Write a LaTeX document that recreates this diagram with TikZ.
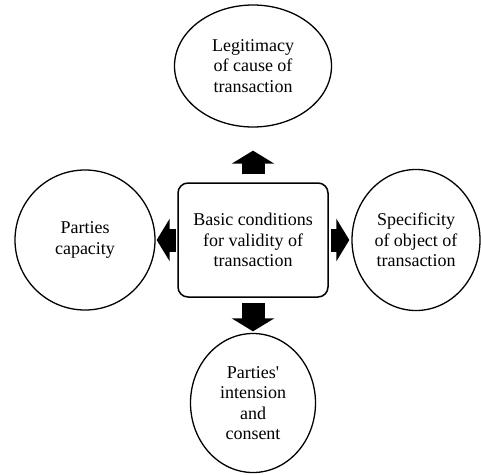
\documentclass[tikz,border=0pt]{standalone}
\usepackage{fontspec}
\setmainfont{Liberation Serif}
\usetikzlibrary{arrows.meta,shapes.geometric}

\tikzset{
  txt/.style={align=center, inner sep=0pt, font=\fontsize{18}{20.5}\selectfont},
  oval/.style={txt, draw, line width=1.3pt, ellipse},
  mainbox/.style={txt, draw, line width=1.5pt, rounded corners=10pt, minimum width=150pt, minimum height=114pt},
  blockarrow/.style={line width=23pt, -{Triangle[length=13pt, width=42pt]}}
}

\begin{document}
\begin{tikzpicture}[x=1pt, y=-1pt]
          \useasboundingbox (0, 0) rectangle (481, 474);
          \node[mainbox] (basic) at (253, 240) {Basic conditions\\for validity of\\transaction};
          %
          \node[oval, minimum width=157pt, minimum height=122pt] (cause) at (253, 66) {Legitimacy\\of cause of\\transaction};
          \node[oval, minimum width=140pt, minimum height=140pt] (capacity) at (85, 240) {Parties\\capacity};
          \node[oval, minimum width=128pt, minimum height=141pt] (object) at (416, 240) {Specificity\\of object of\\transaction};
          \node[oval, minimum width=125pt, minimum height=139pt] (consent) at (253, 403) {Parties\textquotesingle\\intension\\and\\consent};
          %
          \draw[blockarrow, shorten <=8pt, shorten >=23pt] (basic) -- (cause);
          \draw[blockarrow, shorten <=1pt, shorten >=1pt] (basic) -- (capacity);
          \draw[blockarrow, shorten <=2pt, shorten >=2pt] (basic) -- (object);
          \draw[blockarrow, shorten <=5pt, shorten >=1.5pt] (basic) -- (consent);
        \end{tikzpicture}
\end{document}
